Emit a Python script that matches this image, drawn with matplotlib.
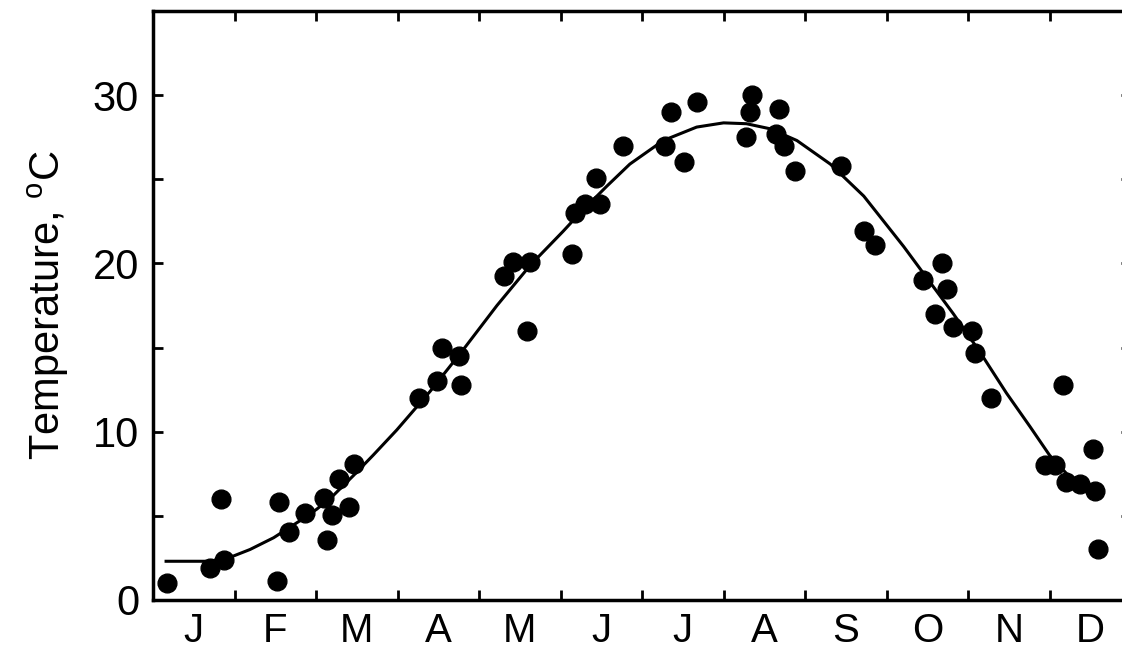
import matplotlib
matplotlib.use("Agg")
import matplotlib.pyplot as plt
import numpy as np

plt.rcParams.update({
    'font.family': 'Liberation Sans',
    'mathtext.fontset': 'custom',
    'mathtext.rm': 'Liberation Sans',
    'font.size': 30,
})

months = ['J', 'F', 'M', 'A', 'M', 'J', 'J', 'A', 'S', 'O', 'N', 'D']

# observed temperatures (x in months from 1 Jan)
obs_month = [0.17, 0.70, 0.83, 0.87, 1.52, 1.55, 1.67, 1.87, 2.10, 2.14,
             2.20, 2.28, 2.40, 2.46, 3.26, 3.48, 3.55, 3.75, 3.78, 4.30,
             4.42, 4.59, 4.63, 5.14, 5.18, 5.30, 5.44, 5.48, 5.77, 6.28,
             6.35, 6.52, 6.68, 7.28, 7.32, 7.35, 7.64, 7.68, 7.74, 7.88,
             8.44, 8.72, 8.86, 9.45, 9.59, 9.68, 9.74, 9.82, 10.05, 10.09,
             10.28, 10.94, 11.07, 11.16, 11.20, 11.37, 11.53, 11.56, 11.60]
obs_temp = [1.0, 1.9, 6.0, 2.4, 1.1, 5.85, 4.05, 5.15, 6.05, 3.55,
            5.05, 7.2, 5.55, 8.1, 12.0, 13.0, 15.0, 14.5, 12.8, 19.25,
            20.1, 16.0, 20.1, 20.55, 23.0, 23.5, 25.1, 23.5, 27.0, 27.0,
            29.0, 26.0, 29.6, 27.5, 29.0, 30.0, 27.7, 29.2, 27.0, 25.5,
            25.8, 21.9, 21.1, 19.0, 17.0, 20.0, 18.5, 16.2, 16.0, 14.7,
            12.0, 8.0, 8.0, 12.8, 7.0, 6.9, 9.0, 6.45, 3.0]

# fitted curve
fit_month = [0.16, 0.70, 0.98, 1.19, 1.48, 1.80, 2.01, 2.21, 2.46, 2.70,
             2.99, 3.40, 3.81, 4.22, 4.63, 5.03, 5.24, 5.57, 5.85, 6.26,
             6.67, 7.00, 7.28, 7.57, 7.90, 8.31, 8.72, 9.21, 9.53, 9.82,
             10.15, 10.47, 10.76, 11.00, 11.21, 11.35]
fit_temp = [2.3, 2.3, 2.6, 3.0, 3.7, 4.7, 5.4, 6.2, 7.4, 8.6,
            10.1, 12.4, 14.9, 17.5, 19.9, 21.9, 23.0, 24.6, 25.9, 27.3,
            28.1, 28.35, 28.3, 28.0, 27.3, 25.9, 24.0, 21.0, 18.9, 17.0,
            14.7, 12.3, 10.3, 8.6, 7.5, 6.9]

fig = plt.figure(figsize=(11.22, 6.56), dpi=100)
ax = fig.add_axes([0.1364, 0.0854, 0.8717, 0.8979])

ax.plot(fit_month, fit_temp, color='black', lw=2.2, zorder=2,
        solid_joinstyle='round')
ax.plot(obs_month, obs_temp, 'o', color='black', markersize=13.5, zorder=3)

ax.set_xlim(0, 12)
ax.set_ylim(0, 35)

# month boundaries as ticks, labels centred in each month
ax.set_xticks(np.arange(1, 12))
ax.set_xticklabels([])
ax.set_xticks(np.arange(12) + 0.5, minor=True)
ax.set_xticklabels(months, minor=True, fontsize=29)
ax.tick_params(axis='x', which='minor', length=0, pad=9)

ax.set_yticks([0, 10, 20, 30])
ax.set_yticks([5, 15, 25], minor=True)
ax.tick_params(axis='both', which='major', direction='in', length=7, width=2,
               top=True, right=True)
ax.tick_params(axis='y', which='minor', direction='in', length=7, width=2,
               right=True)
ax.tick_params(axis='y', which='major', pad=10)

for s in ax.spines.values():
    s.set_linewidth(2.5)

ax.set_ylabel(r'Temperature, $^{\mathrm{o}}$C', labelpad=16)

fig.savefig('out.png', dpi=100)
